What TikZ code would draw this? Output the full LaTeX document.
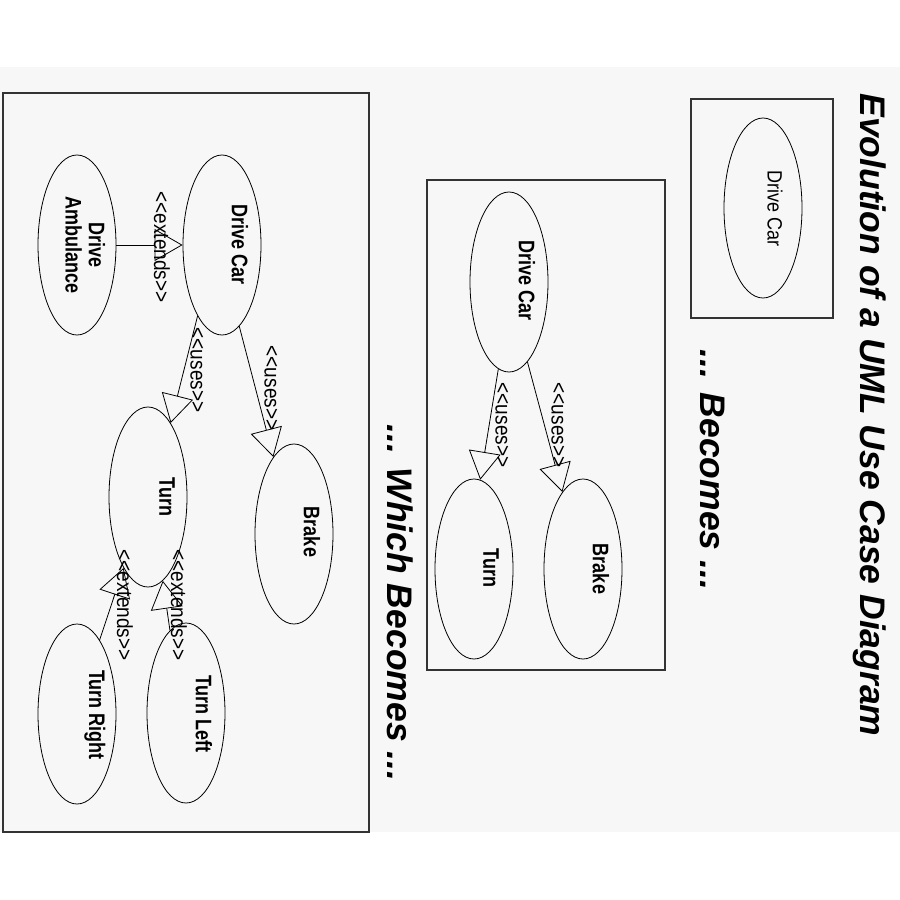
\documentclass[tikz,border=0pt]{standalone}
\usepackage{fontspec}
\setmainfont{Liberation Sans}
\newfontfamily\stfont{Liberation Sans}
\usetikzlibrary{shapes.geometric,arrows.meta}
\definecolor{bg}{HTML}{F7F7F7}
\definecolor{framecol}{HTML}{333333}
\newcommand\vsc[1]{\scalebox{1}[1.25]{#1}}
\newcommand\vst[1]{\scalebox{1}[1.15]{#1}}
\begin{document}
\begin{tikzpicture}[x=1pt,y=-1pt,
  uc/.style={draw=black,line width=0.8pt,ellipse,minimum width=78pt,minimum height=180pt,inner sep=0pt},
  lbl/.style={rotate=-90,font=\bfseries\fontsize{18}{18.5}\selectfont,inner sep=0pt,align=center},
  st/.style={rotate=-90,font=\stfont\fontsize{19}{22}\selectfont,inner sep=0pt},
  frame/.style={draw=framecol,line width=1.5pt},
  rel/.style={draw=black,line width=0.8pt,-{Triangle[open,length=28pt,width=32pt]}},
  ttl/.style={rotate=-90,font=\bfseries\itshape\fontsize{35.5}{42}\selectfont,inner sep=0pt}]
\useasboundingbox (0,0) rectangle (900,900);
\fill[white] (0,0) rectangle (900,900);
\fill[bg] (0,67) rectangle (900,832);

% frames
\draw[frame] (3,93) rectangle (369,832);
\draw[frame] (427,180) rectangle (665,670);
\draw[frame] (691,99) rectangle (833,318);

% use cases
\node[uc] (da) at (77,245) {};
\node[uc] (dc1) at (222,245) {};
\node[uc] (tu1) at (148,497) {};
\node[uc] (br1) at (294,534) {};
\node[uc] (tr) at (77,714) {};
\node[uc] (tl) at (186,713) {};
\node[uc] (dc2) at (509,282) {};
\node[uc] (tu2) at (474,569) {};
\node[uc] (br2) at (583,569) {};
\node[uc] (dc0) at (763,208) {};

% labels
\node[lbl] (da-t) at (82,245) {\vsc{\begin{tabular}{@{}c@{}}Drive\\Ambulance\end{tabular}}};
\node[lbl] (dc1-t) at (240,245) {\vsc{Drive Car}};
\node[lbl] (tu1-t) at (167,497) {\vsc{Turn}};
\node[lbl] (br1-t) at (312,532) {\vsc{Brake}};
\node[lbl] (tr-t) at (95,715) {\vsc{Turn Right}};
\node[lbl] (tl-t) at (204,714) {\vsc{Turn Left}};
\node[lbl] (dc2-t) at (527,281) {\vsc{Drive Car}};
\node[lbl] (tu2-t) at (491,568) {\vsc{Turn}};
\node[lbl] (br2-t) at (601,569) {\vsc{Brake}};
\node[lbl,font=\fontsize{18}{20}\selectfont] (dc0-t) at (775,209) {\vst{Drive Car}};

% relations
\draw[rel] (da.east) -- (dc1.west);
\draw[rel] (dc1.251) -- (tu1.73);
\draw[rel] (dc1.282) -- (br1.105);
\draw[rel] (tr.73) -- (tu1.251);
\draw[rel] (tl.101) -- (tu1.280);
\draw[rel] (dc2.263) -- (tu2.86);
\draw[rel] (dc2.283) -- (br2.105);

% stereotypes
\node[st] (e1) at (162,247) {\vst{<{}<extends>{}>}};
\node[st] (u1) at (197,370) {\vst{<{}<uses>{}>}};
\node[st] (u2) at (271,388) {\vst{<{}<uses>{}>}};
\node[st] (e2) at (125,605) {\vst{<{}<extends>{}>}};
\node[st] (e3) at (179,605) {\vst{<{}<extends>{}>}};
\node[st] (u3) at (502,425) {\vst{<{}<uses>{}>}};
\node[st] (u4) at (558,425) {\vst{<{}<uses>{}>}};

% titles
\node[ttl] (title) at (870,415) {Evolution of a UML Use Case Diagram};
\node[ttl] (b1) at (713,470) {... Becomes ...};
\node[ttl] (b2) at (400,603) {... Which Becomes ...};
\end{tikzpicture}
\end{document}
